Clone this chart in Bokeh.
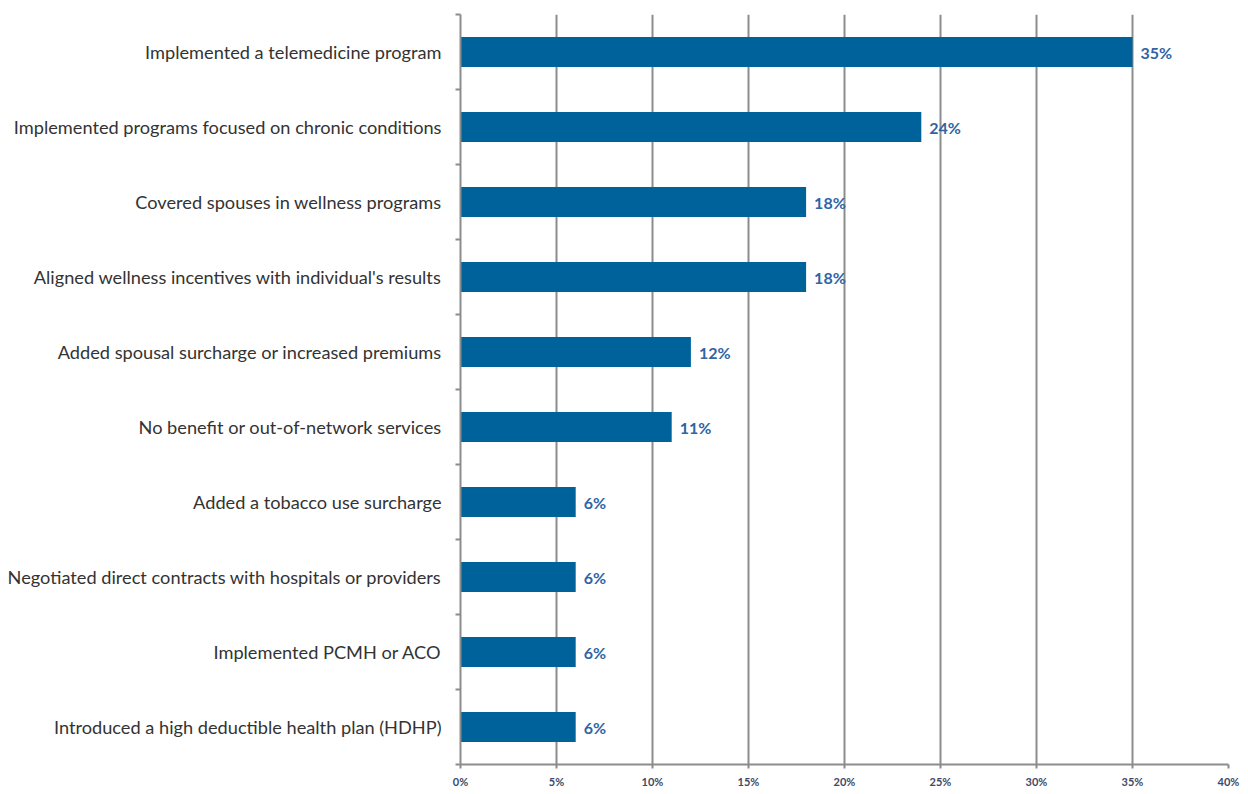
from bokeh.plotting import figure
from bokeh.models import Range1d, FixedTicker, ColumnDataSource
from bokeh.core.properties import value
from bokeh.embed import file_html
from bokeh.resources import INLINE

categories = [
    "Implemented a telemedicine program",
    "Implemented programs focused on chronic conditions",
    "Covered spouses in wellness programs",
    "Aligned wellness incentives with individual's results",
    "Added spousal surcharge or increased premiums",
    "No benefit or out-of-network services",
    "Added a tobacco use surcharge",
    "Negotiated direct contracts with hospitals or providers",
    "Implemented PCMH or ACO",
    "Introduced a high deductible health plan (HDHP)",
]
values = [35, 24, 18, 18, 12, 11, 6, 6, 6, 6]
x_ticks = [0, 5, 10, 15, 20, 25, 30, 35, 40]
x_tick_labels = [f"{t}%" for t in x_ticks]

n = len(categories)
ypos = [n - 1 - i for i in range(n)]
src = ColumnDataSource(dict(y=ypos, v=values, cat=categories,
                            lab=[f"{v}%" for v in values]))

p = figure(width=1240, height=790, output_backend="svg", toolbar_location=None,
           x_range=Range1d(0, 40), y_range=Range1d(-0.5, n - 0.5),
           min_border_left=460, min_border_right=12, min_border_top=14,
           min_border_bottom=21)
p.outline_line_color = None

p.hbar(y="y", right="v", left=0, height=0.4, source=src,
       fill_color="#00629B", line_color=None)
p.text(x="v", y="y", text="lab", source=src, x_offset=8,
       text_align="left", text_baseline="middle",
       text_font=value("Lato"), text_font_size="16px", text_font_style="bold",
       text_color="#2F64A5")

# x axis
p.xaxis.ticker = FixedTicker(ticks=x_ticks)
p.xaxis.major_label_overrides = {t: l for t, l in zip(x_ticks, x_tick_labels)}
p.xaxis.major_label_text_font = "Lato"
p.xaxis.major_label_text_font_size = "11px"
p.xaxis.major_label_text_font_style = "bold"
p.xaxis.major_label_text_color = "#3B4A6B"
p.xaxis.axis_line_color = "#8C8C8C"
p.xaxis.axis_line_width = 2
p.xaxis.major_tick_line_color = "#8C8C8C"
p.xaxis.major_tick_line_width = 2
p.xaxis.major_tick_out = 4
p.xaxis.major_tick_in = 0
p.xaxis.minor_tick_line_color = None
p.xaxis.major_label_standoff = 6

# y axis: labels at centres, ticks at boundaries (minor)
p.yaxis.ticker = FixedTicker(ticks=ypos, minor_ticks=[k - 0.5 for k in range(n + 1)])
p.yaxis.major_label_overrides = {y: c for y, c in zip(ypos, categories)}
p.yaxis.major_label_text_font = "Lato"
p.yaxis.major_label_text_font_size = "18.2px"
p.yaxis.major_label_text_color = "#333333"
p.yaxis.major_label_standoff = 13
p.yaxis.axis_line_color = "#8C8C8C"
p.yaxis.axis_line_width = 2
p.yaxis.major_tick_line_color = None
p.yaxis.minor_tick_line_color = "#8C8C8C"
p.yaxis.minor_tick_line_width = 2
p.yaxis.minor_tick_out = 5
p.yaxis.minor_tick_in = 0

p.xgrid.ticker = FixedTicker(ticks=x_ticks)
p.xgrid.grid_line_color = "#8C8C8C"
p.xgrid.grid_line_width = 2
p.ygrid.grid_line_color = None

open("out.html", "w").write(file_html(p, INLINE))
